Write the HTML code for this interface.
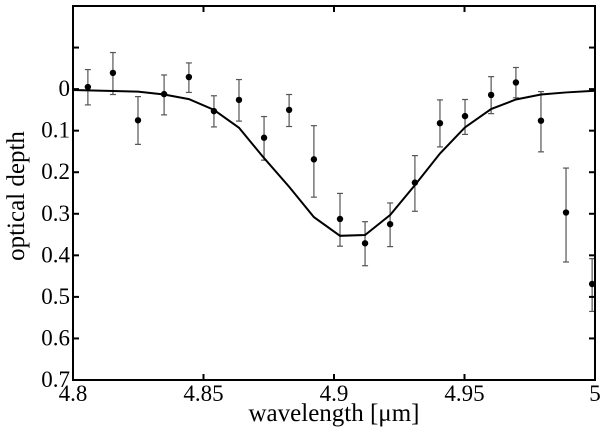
<!DOCTYPE html>
<html><head><meta charset="utf-8"><style>
body{margin:0;background:#fff;}
svg text{font-family:"Liberation Serif","DejaVu Serif",serif;fill:#000;}
</style></head><body>
<svg id="chart" width="600" height="430" xmlns="http://www.w3.org/2000/svg"></svg>
<script>
const wavelengths=[4.8057,4.8153,4.8249,4.8349,4.8444,4.854,4.8636,4.8732,4.8828,4.8923,4.9023,4.9119,4.9215,4.931,4.9406,4.9502,4.9602,4.9697,4.9793,4.9889,4.9989];
const depths=[-0.005,-0.039,0.075,0.012,-0.029,0.053,0.026,0.117,0.05,0.169,0.3125,0.371,0.325,0.225,0.082,0.065,0.014,-0.016,0.076,0.297,0.469];
const errLow=[-0.047,-0.088,0.018,-0.034,-0.063,0.016,-0.023,0.066,0.013,0.088,0.251,0.319,0.274,0.16,0.026,0.025,-0.03,-0.052,0.006,0.19,0.408];
const errHigh=[0.038,0.013,0.133,0.062,0.008,0.091,0.077,0.171,0.09,0.26,0.378,0.425,0.379,0.294,0.139,0.109,0.059,0.021,0.151,0.416,0.535];
const modelX=[4.8,4.8057,4.8249,4.8349,4.8444,4.854,4.8636,4.8732,4.8828,4.8923,4.9023,4.9119,4.9215,4.931,4.9406,4.9502,4.9602,4.9697,4.9793,4.9889,5.0];
const modelY=[0.002,0.003,0.006,0.013,0.024,0.05,0.093,0.166,0.235,0.308,0.353,0.351,0.303,0.231,0.155,0.092,0.048,0.025,0.013,0.008,0.004];
const xTicks=[4.8,4.85,4.9,4.95,5.0];
const xTickLabels=["4.8","4.85","4.9","4.95","5"];
const yTicks=[-0.1,0,0.1,0.2,0.3,0.4,0.5,0.6,0.7];
const yTickLabels=["","0","0.1","0.2","0.3","0.4","0.5","0.6","0.7"];

const L=73,R=595,T=6,B=380;
const X0=4.8,X1=5.0,Y0=-0.2,Y1=0.7;
const FF='"Liberation Serif","DejaVu Serif",serif';
function sx(v){return L+(v-X0)/(X1-X0)*(R-L);}
function sy(v){return T+(v-Y0)/(Y1-Y0)*(B-T);}
const svg=document.getElementById('chart');
const NS='http://www.w3.org/2000/svg';
function mk(tag,attrs,parent){const e=document.createElementNS(NS,tag);for(const k in attrs)e.setAttribute(k,attrs[k]);(parent||svg).appendChild(e);return e;}

const eg=mk('g',{});


for(let i=0;i<wavelengths.length;i++){
  const x=sx(wavelengths[i]),y1=sy(errLow[i]),y2=sy(errHigh[i]);
  const g=mk('g',{stroke:'#555','stroke-width':1.2},eg);
  
  
  mk('line',{x1:x,x2:x,y1:y1,y2:y2},g);
  mk('line',{x1:x-3,x2:x+3,y1:y1,y2:y1},g);
  mk('line',{x1:x-3,x2:x+3,y1:y2,y2:y2},g);
}
const pts=modelX.map((v,i)=>sx(v)+','+sy(modelY[i])).join(' ');
const pl=mk('polyline',{points:pts,fill:'none',stroke:'#000','stroke-width':2});


for(let i=0;i<wavelengths.length;i++){
  const c=mk('circle',{cx:sx(wavelengths[i]),cy:sy(depths[i]),r:3.2,fill:'#000'});
  
  
}
const fr=mk('rect',{x:L,y:T,width:R-L,height:B-T,fill:'none',stroke:'#000','stroke-width':2});


xTicks.forEach((v,i)=>{
  const x=sx(v);
  mk('line',{x1:x,x2:x,y1:B,y2:B-6,stroke:'#000','stroke-width':2});
  mk('line',{x1:x,x2:x,y1:T,y2:T+6,stroke:'#000','stroke-width':2});
  const t=mk('text',{x:x,y:B+21,'font-size':23,'text-anchor':'middle','font-family':FF});
  t.textContent=xTickLabels[i];
  
  
});
yTicks.forEach((v,i)=>{
  const y=sy(v);
  mk('line',{x1:L,x2:L+6,y1:y,y2:y,stroke:'#000','stroke-width':2});
  mk('line',{x1:R,x2:R-6,y1:y,y2:y,stroke:'#000','stroke-width':2});
  if(yTickLabels[i]){
    const t=mk('text',{x:L-3,y:y+7,'font-size':23,'text-anchor':'end','font-family':FF});
    t.textContent=yTickLabels[i];
    
    
  }
});
const xl=mk('text',{x:334,y:421,'font-size':25,'text-anchor':'middle','font-family':FF});
xl.textContent='wavelength [μm]';


const yl=mk('text',{x:0,y:0,'font-size':25,'text-anchor':'middle','font-family':FF,transform:'translate(24,196) rotate(-90)'});
yl.textContent='optical depth';


</script>
</body></html>
